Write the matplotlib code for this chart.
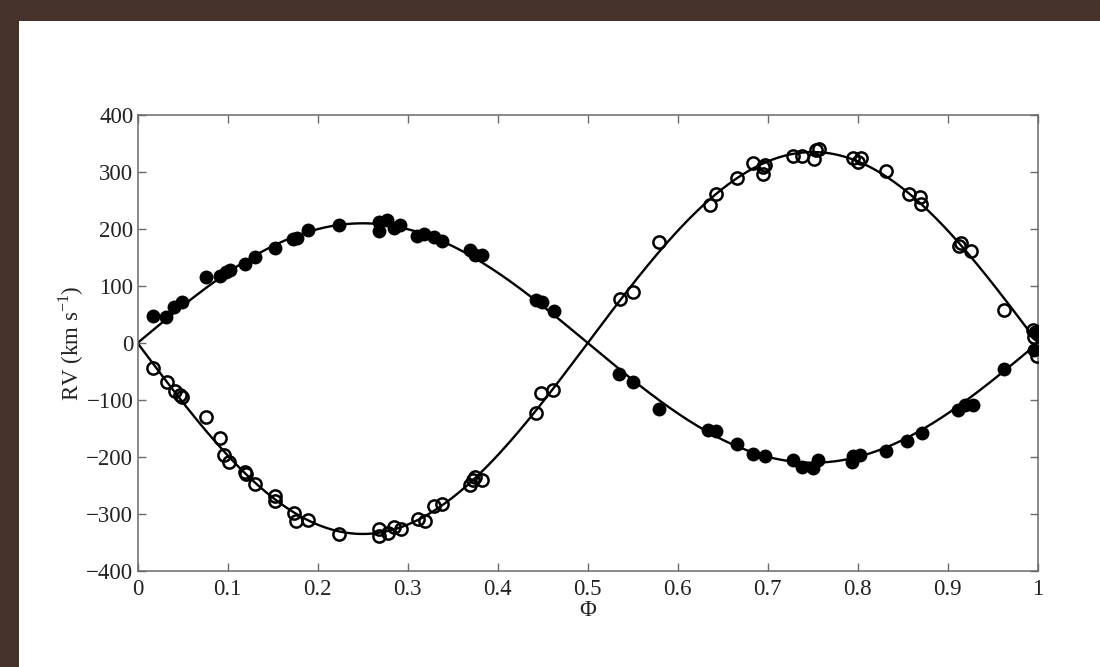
import numpy as np
import matplotlib.pyplot as plt
from matplotlib.patches import Rectangle

# orbital phase and radial velocities, primary (filled) component
phase_primary = [0.0175, 0.0316, 0.041, 0.049, 0.076, 0.0916, 0.098, 0.1027,
                 0.1194, 0.1305, 0.1527, 0.173, 0.1768, 0.189, 0.2238, 0.2685,
                 0.2685, 0.277, 0.285, 0.292, 0.31, 0.318, 0.329, 0.338,
                 0.369, 0.375, 0.383, 0.443, 0.449, 0.4625, 0.535, 0.5506,
                 0.5795, 0.634, 0.643, 0.6654, 0.683, 0.697, 0.728, 0.7376,
                 0.7505, 0.756, 0.793, 0.795, 0.802, 0.831, 0.855, 0.871,
                 0.9115, 0.919, 0.9275, 0.962, 0.9955, 0.997, 0.999]
rv_primary = [47, 45, 64, 72, 115, 117, 125, 128,
              138, 151, 167, 182, 185, 198, 207, 213,
              196, 216, 201, 207, 188, 192, 186, 179,
              163, 154, 154, 75, 72, 57, -54, -69,
              -115, -153, -154, -178, -194, -198, -205, -217,
              -220, -205, -208, -199, -196, -189, -172, -157,
              -118, -109, -109, -46, -12, 20, 16]

# secondary (open) component
phase_secondary = [0.0175, 0.0324, 0.0416, 0.047, 0.049, 0.076, 0.0916, 0.096,
                   0.102, 0.119, 0.1205, 0.1305, 0.1527, 0.1527, 0.1738, 0.1757,
                   0.1897, 0.224, 0.2685, 0.2685, 0.2785, 0.285, 0.2923, 0.312,
                   0.319, 0.329, 0.338, 0.369, 0.373, 0.375, 0.383, 0.443,
                   0.448, 0.4617, 0.536, 0.5506, 0.579, 0.636, 0.643, 0.6654,
                   0.684, 0.695, 0.695, 0.697, 0.728, 0.7385, 0.7516, 0.7535,
                   0.757, 0.795, 0.8005, 0.804, 0.831, 0.8565, 0.869, 0.870,
                   0.9125, 0.9145, 0.926, 0.9626, 0.994, 0.996, 0.999]
rv_secondary = [-43, -68, -85, -91, -94, -130, -167, -196,
                -208, -226, -230, -247, -268, -277, -298, -313,
                -310, -335, -327, -338, -333, -322, -327, -309,
                -312, -286, -282, -249, -240, -235, -240, -122,
                -88, -82, 78, 90, 177, 242, 262, 290,
                315, 309, 296, 312, 328, 328, 322, 338,
                340, 324, 318, 324, 302, 261, 257, 244,
                170, 175, 162, 58, 22, 10, -22]

# fitted semi-amplitudes (km/s)
K_primary = 210
K_secondary = 335

xticks = [0, 0.1, 0.2, 0.3, 0.4, 0.5, 0.6, 0.7, 0.8, 0.9, 1]
xticklabels = ['0', '0.1', '0.2', '0.3', '0.4', '0.5', '0.6', '0.7', '0.8', '0.9', '1']
yticks = [-400, -300, -200, -100, 0, 100, 200, 300, 400]

plt.rcParams['font.family'] = ['Liberation Serif', 'DejaVu Serif']
plt.rcParams['mathtext.fontset'] = 'custom'
plt.rcParams['mathtext.rm'] = 'Liberation Serif'

fig = plt.figure(figsize=(11, 6.67), dpi=100, facecolor='white')

# dark frame strips at top and left
frame = '#44322b'
fig.patches.append(Rectangle((0, 1 - 21 / 667), 1, 21 / 667, transform=fig.transFigure,
                             facecolor=frame, edgecolor='none', zorder=0))
fig.patches.append(Rectangle((0, 0), 19 / 1100, 1, transform=fig.transFigure,
                             facecolor=frame, edgecolor='none', zorder=0))

ax = fig.add_axes([0.125, 0.1439, 0.8186, 0.6837])

phi = np.linspace(0, 1, 400)
ax.plot(phi, K_primary * np.sin(2 * np.pi * phi), color='black', lw=1.7, zorder=2)
ax.plot(phi, -K_secondary * np.sin(2 * np.pi * phi), color='black', lw=1.7, zorder=2)

ax.plot(phase_primary, rv_primary, 'o', color='black', markersize=10,
        markeredgewidth=0, zorder=3)
ax.plot(phase_secondary, rv_secondary, 'o', markerfacecolor='none',
        markeredgecolor='black', markersize=8.8, markeredgewidth=1.8, zorder=3)

ax.set_xlim(0, 1)
ax.set_ylim(-400, 400)
ax.set_xticks(xticks)
ax.set_xticklabels(xticklabels)
ax.set_yticks(yticks)

axis_grey = '#6a6a6a'
for s in ax.spines.values():
    s.set_color(axis_grey)
    s.set_linewidth(1.1)
ax.tick_params(direction='in', top=True, right=True, length=6, width=1.0,
               color=axis_grey, labelsize=16.5, labelcolor='#222222', pad=3)
ax.tick_params(axis='x', pad=6)

ax.set_xlabel('$\\Phi$', fontsize=16.5, color='#222222', labelpad=0)
ax.set_ylabel('RV (km s$^{-1}$)', fontsize=16.5, color='#222222', labelpad=0)

fig.savefig('out.png', dpi=100, facecolor='white')
